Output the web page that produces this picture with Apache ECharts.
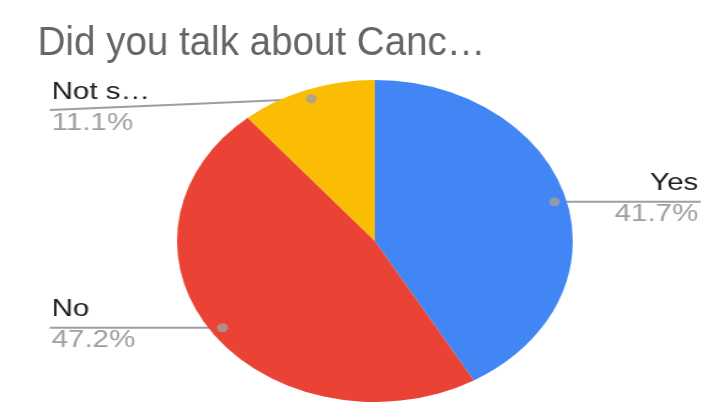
<!DOCTYPE html>
<html>
<head>
<meta charset="utf-8">
<script src="https://cdn.jsdelivr.net/npm/echarts@6/dist/echarts.min.js"></script>
<style>
html,body{margin:0;padding:0;background:#fff;overflow:hidden;width:724px;height:402px;position:relative;}
#chart{position:absolute;left:0;top:0;width:589px;height:402px;transform:scaleX(1.2292);transform-origin:0 0;}
#titlebox{position:absolute;left:0;top:0;width:770px;height:80px;transform:scaleX(0.94);transform-origin:0 0;pointer-events:none;}
</style>
</head>
<body>
<div id="chart"></div>
<div id="titlebox"></div>
<script>
const titleText = 'Did you talk about Canc…';
const categories = ['Yes', 'No', 'Not s…'];
const values = [15, 17, 4];
const colors = ['#4285F4', '#EA4335', '#FBBC04'];

const total = values.reduce((a, b) => a + b, 0);
const mids = [];
let acc = 0;
values.forEach(v => { mids.push(acc + v / 2); acc += v; });

const CX = 305, CY = 241, R = 161;
const DOT_R = 0.94;
const W = 589;
const FONT = 'Liberation Sans, Arial, sans-serif';

const titleChart = echarts.init(document.getElementById('titlebox'));
titleChart.setOption({
  animation: false,
  title: {
    text: titleText,
    left: 35,
    top: 18,
    textStyle: { fontSize: 41, color: '#666666', fontWeight: 'normal', fontFamily: FONT }
  }
});

const chart = echarts.init(document.getElementById('chart'));
chart.setOption({
  animation: false,
  polar: { center: [CX, CY], radius: R },
  angleAxis: { show: false, min: 0, max: total, startAngle: 90, clockwise: true },
  radiusAxis: { show: false, min: 0, max: 1 },
  series: [
    {
      type: 'pie',
      center: [CX, CY],
      radius: R,
      startAngle: 90,
      clockwise: true,
      silent: true,
      itemStyle: { borderWidth: 0 },
      data: categories.map((c, i) => ({ name: c, value: values[i], itemStyle: { color: colors[i] } })),
      label: {
        show: true,
        formatter: p => '{n|' + p.name + '}\n{p|' + p.percent.toFixed(1) + '%}',
        rich: {
          n: { fontSize: 24, color: '#212121', lineHeight: 31, fontFamily: FONT },
          p: { fontSize: 24, color: '#9e9e9e', lineHeight: 31, fontFamily: FONT }
        }
      },
      labelLine: { show: true, length: 10, length2: 10, lineStyle: { color: '#9e9e9e', width: 2 } },
      labelLayout: function (params) {
        const pts = params.labelLinePoints;
        if (!pts) return {};
        const p0 = pts[0];
        const dot = [CX + (p0[0] - CX) * DOT_R, CY + (p0[1] - CY) * DOT_R];
        const isLeft = dot[0] < CX;
        const lineY = Math.max(dot[1], 110);
        const endX = isLeft ? 40.5 : W - 19;
        const mid = [(dot[0] + endX) / 2, (dot[1] + lineY) / 2];
        return {
          x: isLeft ? 42 : W - 21,
          y: lineY - 2.5,
          align: isLeft ? 'left' : 'right',
          verticalAlign: 'middle',
          labelLinePoints: [dot, mid, [endX, lineY]]
        };
      }
    },
    {
      type: 'scatter',
      coordinateSystem: 'polar',
      silent: true,
      z: 5,
      symbolSize: 9,
      itemStyle: { color: '#a0a0a0' },
      data: mids.map(m => [DOT_R, m])
    }
  ]
});
</script>
</body>
</html>
